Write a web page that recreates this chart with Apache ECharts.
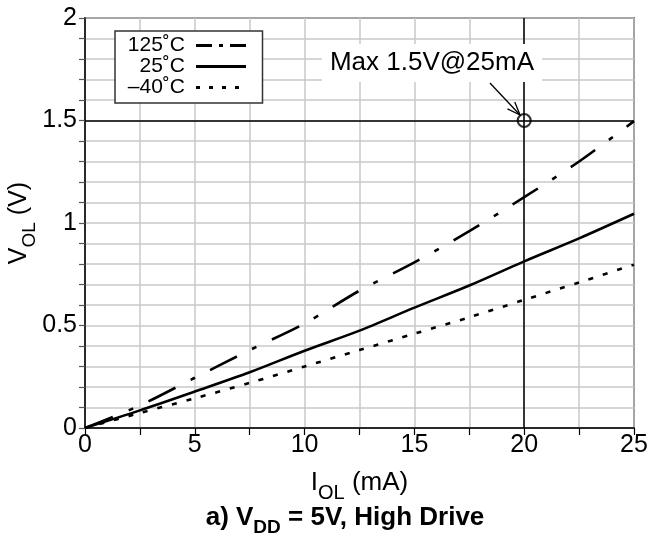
<!DOCTYPE html>
<html>
<head>
<meta charset="utf-8">
<script src="https://cdn.jsdelivr.net/npm/echarts@6/dist/echarts.min.js"></script>
<style>html,body{margin:0;padding:0;background:#fff}#c{width:652px;height:537px}</style>
</head>
<body>
<div id="c"></div>
<script>
// ---- data ----
var iol = [0, 2.5, 5, 7.5, 10, 12.5, 15, 17.5, 20, 22.5, 25];
var v125 = [0, 0.11, 0.245, 0.38, 0.51, 0.67, 0.808, 0.96, 1.126, 1.3, 1.497];
var v25 = [0, 0.086, 0.178, 0.272, 0.377, 0.475, 0.587, 0.695, 0.813, 0.925, 1.045];
var vm40 = [0, 0.073, 0.145, 0.22, 0.30, 0.38, 0.46, 0.54, 0.625, 0.71, 0.797];
var seriesNames = ['125˚C', '25˚C', '–40˚C'];
var maxPoint = [20, 1.5];
var annotationText = 'Max 1.5V@25mA';
var xTicks = [0, 5, 10, 15, 20, 25];
var yTicks = [0, 0.5, 1, 1.5, 2];

function pairs(xs, ys) { return xs.map(function (x, i) { return [x, ys[i]]; }); }

var FONT = 'Liberation Sans, Arial, Helvetica, sans-serif';
var chart = echarts.init(document.getElementById('c'), null, { renderer: 'canvas' });

var option = {
  backgroundColor: '#fff',
  animation: false,
  textStyle: { fontFamily: FONT, color: '#000' },
  grid: { left: 85, right: 18, top: 18, bottom: 109, containLabel: false, outerBoundsMode: 'none', show: true, borderColor: '#000', borderWidth: 1.5, backgroundColor: 'transparent' },
  title: {
    text: '{b|a) V}{bs|DD}{b| = 5V, High Drive}',
    left: 340, top: 500, textAlign: 'center',
    textStyle: {
      rich: {
        b: { fontFamily: FONT, fontSize: 26, fontWeight: 'bold', color: '#000', lineHeight: 32, verticalAlign: 'bottom', padding: [0, 0, 6, 0] },
        bs: { fontFamily: FONT, fontSize: 19, fontWeight: 'bold', color: '#000', lineHeight: 32, verticalAlign: 'bottom' }
      }
    }
  },
  legend: {
    left: 115, top: 31, orient: 'vertical', align: 'right',
    backgroundColor: '#fff', borderColor: '#333', borderWidth: 1.5, borderRadius: 0,
    padding: [4, 15, 5, 4], itemGap: 0, itemWidth: 50, itemHeight: 14,
    itemStyle: { color: 'rgba(0,0,0,0)', borderWidth: 0, opacity: 0 },
    data: [
      { name: seriesNames[0], lineStyle: { type: [16, 7, 4, 7], width: 3 } },
      { name: seriesNames[1], lineStyle: { type: 'solid', width: 3 } },
      { name: seriesNames[2], lineStyle: { type: [4, 9], width: 3 } }
    ],
    textStyle: { fontFamily: FONT, fontSize: 21, color: '#000', width: 66, align: 'right', lineHeight: 21, padding: [0, 6, 0, 0] }
  },
  xAxis: {
    type: 'value', min: 0, max: 25, interval: 2.5,
    name: '{m|I}{s|OL}{m| (mA)}', nameLocation: 'middle', nameGap: 41, nameMoveOverlap: false,
    nameTextStyle: {
      rich: {
        m: { fontFamily: FONT, fontSize: 26, color: '#000', lineHeight: 34, verticalAlign: 'bottom', padding: [0, 0, 7, 0] },
        s: { fontFamily: FONT, fontSize: 20, color: '#000', lineHeight: 34, verticalAlign: 'bottom' }
      }
    },
    axisLine: { show: true, onZero: false, lineStyle: { color: '#000', width: 1.5 } },
    axisTick: { show: true, length: 7, lineStyle: { color: '#000', width: 1.2 } },
    axisLabel: {
      fontFamily: FONT, fontSize: 25, color: '#000', margin: 5,
      formatter: function (v) { var r = Math.round(v * 10) / 10; return xTicks.indexOf(r) >= 0 ? String(r) : ''; }
    },
    splitLine: { show: true, lineStyle: { color: '#c8c8c8', width: 1.5 } }
  },
  yAxis: {
    type: 'value', min: 0, max: 2, interval: 0.1,
    name: '{m|V}{s|OL}{m| (V)}', nameLocation: 'middle', nameGap: 46, nameRotate: 90, nameMoveOverlap: false,
    nameTextStyle: {
      rich: {
        m: { fontFamily: FONT, fontSize: 25, color: '#000', lineHeight: 34, verticalAlign: 'bottom', padding: [0, 0, 7, 0] },
        s: { fontFamily: FONT, fontSize: 19, color: '#000', lineHeight: 34, verticalAlign: 'bottom' }
      }
    },
    axisLine: { show: true, lineStyle: { color: '#000', width: 1.5 } },
    axisTick: { show: true, length: 6, lineStyle: { color: '#555', width: 1.2 } },
    axisLabel: {
      fontFamily: FONT, fontSize: 25, color: '#000', margin: 8,
      formatter: function (v) { var r = Math.round(v * 10) / 10; return yTicks.indexOf(r) >= 0 ? String(r) : ''; }
    },
    splitLine: { show: true, lineStyle: { color: '#c8c8c8', width: 1.5 } }
  },
  series: [
    {
      name: seriesNames[0], type: 'line', data: pairs(iol, v125), smooth: 0.3, symbol: 'none',
      lineStyle: { color: '#000', width: 2.6, type: [30, 17, 5, 17] }, itemStyle: { color: '#000' }, z: 3
    },
    {
      name: seriesNames[1], type: 'line', data: pairs(iol, v25), smooth: 0.3, symbol: 'none',
      lineStyle: { color: '#000', width: 2.6, type: 'solid' }, itemStyle: { color: '#000' }, z: 3
    },
    {
      name: seriesNames[2], type: 'line', data: pairs(iol, vm40), smooth: 0.3, symbol: 'none',
      lineStyle: { color: '#000', width: 2.6, type: [5, 10] }, itemStyle: { color: '#000' }, z: 3
    },
    {
      name: 'max', type: 'scatter', data: [maxPoint], symbol: 'circle', symbolSize: 13,
      itemStyle: { color: 'rgba(0,0,0,0)', borderColor: '#000', borderWidth: 2.2 }, z: 5,
      silent: true,
      markLine: {
        silent: true, symbol: 'none', animation: false, label: { show: false },
        lineStyle: { color: '#000', width: 1.5, type: 'solid' },
        data: [{ xAxis: maxPoint[0] }, { yAxis: maxPoint[1] }]
      }
    }
  ]
};
chart.setOption(option);

// annotation: text label with an open arrow pointing at the max point
var textAnchor = [15.8, 1.78];
var arrowStart = [18.44, 1.683];
var arrowEnd = [19.81, 1.527];
var tp = chart.convertToPixel({ gridIndex: 0 }, textAnchor);
var a0 = chart.convertToPixel({ gridIndex: 0 }, arrowStart);
var a1 = chart.convertToPixel({ gridIndex: 0 }, arrowEnd);
var dx = a1[0] - a0[0], dy = a1[1] - a0[1], len = Math.sqrt(dx * dx + dy * dy);
var ux = dx / len, uy = dy / len, hl = 13, hw = 5;
var h1 = [a1[0] - ux * hl - uy * hw, a1[1] - uy * hl + ux * hw];
var h2 = [a1[0] - ux * hl + uy * hw, a1[1] - uy * hl - ux * hw];
chart.setOption({
  graphic: [
    {
      type: 'text', x: tp[0], y: tp[1], z: 10,
      style: {
        text: annotationText, fontFamily: FONT, fontSize: 26, fill: '#000',
        align: 'center', verticalAlign: 'middle',
        backgroundColor: '#fff', padding: [6, 8, 6, 8]
      }
    },
    { type: 'polyline', z: 10, shape: { points: [a0, a1] }, style: { stroke: '#000', lineWidth: 1.3, fill: null } },
    { type: 'polyline', z: 10, shape: { points: [h1, a1, h2] }, style: { stroke: '#000', lineWidth: 1.3, fill: null } }
  ]
});
</script>
</body>
</html>
